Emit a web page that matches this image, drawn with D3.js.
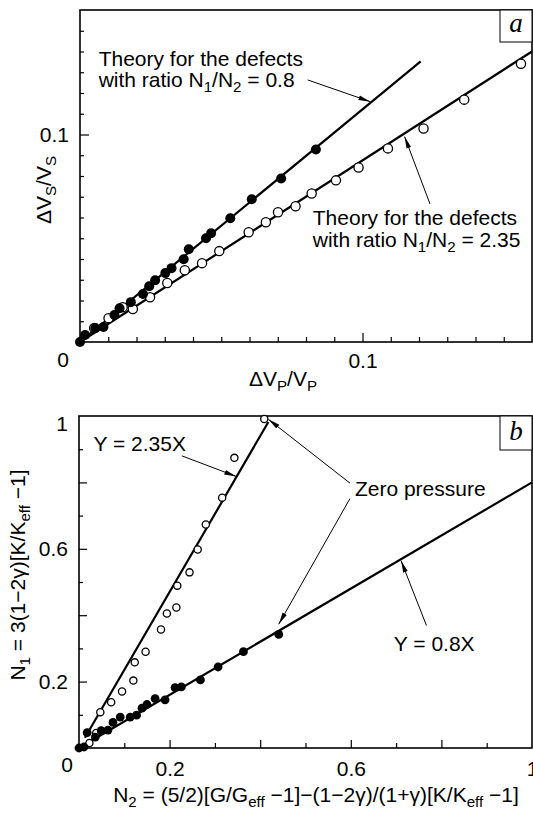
<!DOCTYPE html>
<html>
<head>
<meta charset="utf-8">
<script src="https://cdn.jsdelivr.net/npm/d3@7"></script>
<style>
  body { margin: 0; background: #fff; }
  svg { display: block; }
</style>
</head>
<body>
<div class="root"></div>
<script>
// Panel a: dVs/Vs against dVp/Vp
var aFilled = [[0,0],[0.0018,0.0034],[0.0054,0.0067],[0.0083,0.0072],[0.0122,0.0130],[0.0140,0.0163],
  [0.0180,0.0192],[0.0223,0.0231],[0.0245,0.0269],[0.0266,0.0298],[0.0302,0.0332],[0.0324,0.0356],
  [0.0367,0.0399],[0.0385,0.0447],[0.0446,0.0500],[0.0464,0.0524],[0.0532,0.0596],[0.0608,0.0688],
  [0.0712,0.0788],[0.0835,0.0928]];
var aOpen = [[0.0050,0.0067],[0.0101,0.0115],[0.0151,0.0168],[0.0187,0.0159],[0.0248,0.0216],
  [0.0309,0.0284],[0.0371,0.0346],[0.0432,0.0380],[0.0493,0.0438],[0.0597,0.0529],[0.0658,0.0577],
  [0.0701,0.0625],[0.0763,0.0654],[0.0820,0.0716],[0.0906,0.0779],[0.0986,0.0841],[0.1090,0.0933],
  [0.1216,0.1029],[0.1360,0.1168],[0.1561,0.1341]];
var aTheoryFilled = [[0,0],[0.1206,0.1352]];
var aTheoryOpen = [[0,0],[0.16,0.14]];
var aTicksMinor = d3.range(1, 16).map(function (i) { return i / 100; });
var aTicksMajor = [0.1];

// Panel b: N1 against N2
var bOpen = [[0.023,0.015],[0.038,0.045],[0.047,0.108],[0.071,0.138],[0.095,0.170],[0.120,0.203],
  [0.123,0.258],[0.147,0.290],[0.181,0.357],[0.194,0.405],[0.215,0.423],[0.217,0.489],[0.244,0.529],
  [0.262,0.598],[0.280,0.673],[0.316,0.754],[0.343,0.874],[0.409,0.991]];
var bFilled = [[0,0],[0.011,0.003],[0.018,0.046],[0.036,0.033],[0.049,0.052],[0.064,0.054],[0.075,0.077],
  [0.091,0.093],[0.113,0.093],[0.127,0.099],[0.139,0.120],[0.150,0.131],[0.168,0.149],[0.190,0.145],
  [0.212,0.182],[0.226,0.184],[0.268,0.205],[0.307,0.244],[0.363,0.290],[0.441,0.342]];
var bFit235 = [[0.013,0.031],[0.418,0.982]];
var bFit08 = [[0,0],[1,0.8]];
var bTicksMinor = [0.1,0.3,0.5,0.7,0.9];
var bTicksMajor = [0.2,0.4,0.6,0.8];
var bTickLabels = [0.2,0.6,1];

var font = "'Liberation Sans', Arial, sans-serif";
var fs = 21;

var svg = d3.select(".root").append("svg")
  .attr("width", 533)
  .attr("height", 816);

svg.append("defs").append("marker")
  .attr("id", "head")
  .attr("viewBox", "0 0 12 6")
  .attr("refX", 12).attr("refY", 3)
  .attr("markerWidth", 12).attr("markerHeight", 6)
  .attr("markerUnits", "userSpaceOnUse")
  .attr("orient", "auto")
  .append("path")
  .attr("d", "M0,0.6 L12,3 L0,5.4 Z")
  .attr("fill", "#000");

// text with subscripts; parts = [[string, isSub], ...]
function richText(sel, parts, size) {
  var shifted = false;
  parts.forEach(function (p) {
    var t = sel.append("tspan").text(p[0]);
    if (p[1]) {
      t.attr("font-size", size * 0.72);
      if (!shifted) { t.attr("dy", size * 0.25); shifted = true; }
    } else if (shifted) {
      t.attr("dy", -size * 0.25); shifted = false;
    }
  });
  return sel;
}

function drawPanel(p) {
  var x = d3.scaleLinear().domain(p.domain).range([p.left, p.right]);
  var y = d3.scaleLinear().domain(p.ydomain).range([p.bottom, p.top]);
  var g = svg.append("g");

  // frame
  g.append("rect")
    .attr("x", p.left).attr("y", p.top)
    .attr("width", p.right - p.left).attr("height", p.bottom - p.top)
    .attr("fill", "none").attr("stroke", "#000").attr("stroke-width", 1.6);

  // minor ticks (inward)
  g.append("g").attr("transform", "translate(0," + p.bottom + ")")
    .call(d3.axisBottom(x).tickValues(p.xMinor).tickSize(-5).tickFormat(""))
    .call(function (s) { s.select(".domain").remove(); s.selectAll("line").attr("stroke-width", 1.2); });
  g.append("g").attr("transform", "translate(" + p.left + ",0)")
    .call(d3.axisLeft(y).tickValues(p.yMinor).tickSize(-4).tickFormat(""))
    .call(function (s) { s.select(".domain").remove(); s.selectAll("line").attr("stroke-width", 1.2); });

  // major ticks with labels
  var fmt = function (d) { return p.labels.indexOf(d) >= 0 ? d3.format("~g")(d) : ""; };
  var xa = g.append("g").attr("transform", "translate(0," + p.bottom + ")")
    .call(d3.axisBottom(x).tickValues(p.xMajor).tickSize(-p.majorLen).tickPadding(p.xPad).tickFormat(fmt));
  var ya = g.append("g").attr("transform", "translate(" + p.left + ",0)")
    .call(d3.axisLeft(y).tickValues(p.yMajor).tickSize(-p.majorLen).tickPadding(11).tickFormat(fmt));
  [xa, ya].forEach(function (a) {
    a.select(".domain").remove();
    a.selectAll("line").attr("stroke-width", 1.2);
    a.selectAll("text").attr("font-family", font).attr("font-size", fs).attr("fill", "#000");
  });
  ya.selectAll(".tick").filter(function (d) { return d === 1; }).select("line").remove();
  ya.selectAll(".tick").filter(function (d) { return d === 1; }).select("text").attr("y", 8);
  xa.selectAll(".tick").filter(function (d) { return d === 1; }).select("line").remove();

  // corner zero
  g.append("text")
    .attr("x", p.zeroX).attr("y", p.bottom + p.zeroDy)
    .attr("text-anchor", "middle")
    .attr("font-family", font).attr("font-size", fs)
    .text("0");

  var line = d3.line().x(function (d) { return x(d[0]); }).y(function (d) { return y(d[1]); });
  p.lines.forEach(function (l) {
    g.append("path").datum(l)
      .attr("fill", "none").attr("stroke", "#000").attr("stroke-width", 2.2)
      .attr("d", line);
  });

  g.selectAll(null).data(p.open).enter().append("circle")
    .attr("cx", function (d) { return x(d[0]); })
    .attr("cy", function (d) { return y(d[1]); })
    .attr("r", p.openR)
    .attr("fill", "#fff").attr("stroke", "#000").attr("stroke-width", 1.3);

  g.selectAll(null).data(p.filled).enter().append("circle")
    .attr("cx", function (d) { return x(d[0]); })
    .attr("cy", function (d) { return y(d[1]); })
    .attr("r", p.filledR)
    .attr("fill", "#000");

  // annotation arrows
  p.arrows.forEach(function (a) {
    g.append("line")
      .attr("x1", x(a[0][0])).attr("y1", y(a[0][1]))
      .attr("x2", x(a[1][0])).attr("y2", y(a[1][1]))
      .attr("stroke", "#000").attr("stroke-width", 1)
      .attr("marker-end", "url(#head)");
  });

  // annotation texts
  p.notes.forEach(function (n) {
    richText(g.append("text")
      .attr("x", x(n.at[0])).attr("y", y(n.at[1]))
      .attr("font-family", font).attr("font-size", fs), n.parts, fs);
  });

  // panel letter
  g.append("rect")
    .attr("x", p.right - 32).attr("y", p.top)
    .attr("width", 32).attr("height", p.letterH)
    .attr("fill", "#fff").attr("stroke", "#000").attr("stroke-width", 1);
  g.append("text")
    .attr("x", p.right - 16).attr("y", p.top + p.letterH - 10)
    .attr("text-anchor", "middle")
    .attr("font-family", "'Liberation Serif', 'Times New Roman', serif")
    .attr("font-style", "italic").attr("font-size", 27)
    .text(p.letter);

  // axis titles
  richText(g.append("text")
    .attr("x", p.xTitle[0]).attr("y", p.xTitle[1])
    .attr("text-anchor", "middle")
    .attr("font-family", font).attr("font-size", fs), p.xTitleParts, fs);
  richText(g.append("text")
    .attr("transform", "translate(" + p.yTitle[0] + "," + p.yTitle[1] + ") rotate(-90)")
    .attr("text-anchor", "middle")
    .attr("font-family", font).attr("font-size", fs), p.yTitleParts, fs);
}

drawPanel({
  left: 80, right: 532, top: 10, bottom: 342,
  domain: [0, 0.16], ydomain: [0, 0.16],
  xMinor: aTicksMinor.filter(function (d) { return d !== 0.1; }),
  yMinor: aTicksMinor.filter(function (d) { return d !== 0.1; }),
  xMajor: aTicksMajor, yMajor: aTicksMajor, labels: aTicksMajor,
  majorLen: 9, xPad: 11, zeroX: 63, zeroDy: 25,
  lines: [aTheoryFilled, aTheoryOpen],
  open: aOpen, filled: aFilled, openR: 4.6, filledR: 5,
  arrows: [
    [[0.0806, 0.1263], [0.1028, 0.1158]],
    [[0.1239, 0.0665], [0.1149, 0.0990]]
  ],
  notes: [
    { at: [0.0066, 0.1330], parts: [["Theory for the defects"]] },
    { at: [0.0066, 0.1228], parts: [["with ratio N"], ["1", true], ["/N"], ["2", true], [" = 0.8"]] },
    { at: [0.0824, 0.0563], parts: [["Theory for the defects"]] },
    { at: [0.0824, 0.0458], parts: [["with ratio N"], ["1", true], ["/N"], ["2", true], [" = 2.35"]] }
  ],
  letter: "a", letterH: 32,
  xTitle: [283, 386], xTitleParts: [["\u0394V"], ["P", true], ["/V"], ["P", true]],
  yTitle: [51, 190], yTitleParts: [["\u0394V"], ["S", true], ["/V"], ["S", true]]
});

drawPanel({
  left: 79, right: 532, top: 416, bottom: 748,
  domain: [0, 1], ydomain: [0, 1],
  xMinor: bTicksMinor, yMinor: bTicksMinor,
  xMajor: bTicksMajor.concat([1]), yMajor: bTicksMajor.concat([1]), labels: bTickLabels,
  majorLen: 8, xPad: 13, zeroX: 67, zeroDy: 24,
  lines: [bFit235, bFit08],
  open: bOpen, filled: bFilled, openR: 3.6, filledR: 4.4,
  arrows: [
    [[0.227, 0.880], [0.347, 0.818]],
    [[0.598, 0.798], [0.418, 0.990]],
    [[0.598, 0.751], [0.441, 0.373]],
    [[0.767, 0.369], [0.711, 0.564]]
  ],
  notes: [
    { at: [0.032, 0.895], parts: [["Y = 2.35X"]] },
    { at: [0.609, 0.759], parts: [["Zero pressure"]] },
    { at: [0.695, 0.292], parts: [["Y = 0.8X"]] }
  ],
  letter: "b", letterH: 34,
  xTitle: [316, 802],
  xTitleParts: [["N"], ["2", true], [" = (5/2)[G/G"], ["eff", true], [" \u22121]\u2212(1\u22122\u03b3)/(1+\u03b3)[K/K"], ["eff", true], [" \u22121]"]],
  yTitle: [25, 575],
  yTitleParts: [["N"], ["1", true], [" = 3(1\u22122\u03b3)[K/K"], ["eff", true], [" \u22121]"]]
});
</script>
</body>
</html>
